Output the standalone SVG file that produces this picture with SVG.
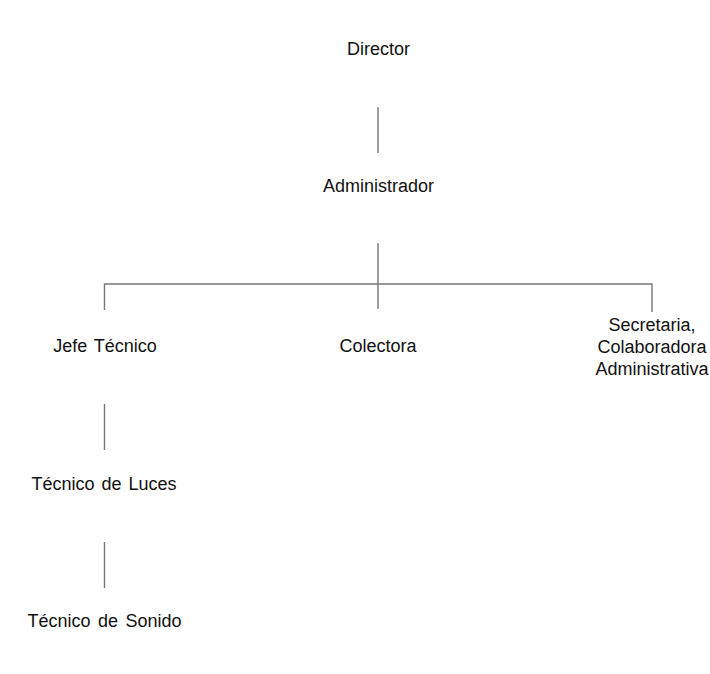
<svg xmlns="http://www.w3.org/2000/svg" width="710" height="674" viewBox="0 0 710 674">
<style>
text{font-family:"Liberation Sans",Arial,sans-serif;font-size:18px;fill:#111;text-anchor:middle}
.c{stroke:#777;stroke-width:1.4;fill:none}
</style>
<rect width="710" height="674" fill="#fff"/>
<g id="connectors">
<line class="c" x1="378" y1="107" x2="378" y2="153"/>
<line class="c" x1="378" y1="243" x2="378" y2="309"/>
<polyline class="c" points="104.5,310 104.5,284 652,284 652,312"/>
<line class="c" x1="104.5" y1="404" x2="104.5" y2="450"/>
<line class="c" x1="104.5" y1="542" x2="104.5" y2="588"/>
</g>
<g id="director"><text x="378.5" y="55">Director</text></g>
<g id="administrador"><text x="378.5" y="192">Administrador</text></g>
<g id="jefe-tecnico"><text x="105" y="352" word-spacing="2">Jefe Técnico</text></g>
<g id="colectora"><text x="378" y="352">Colectora</text></g>
<g id="secretaria"><text x="652" y="331">Secretaria,</text><text x="652" y="353">Colaboradora</text><text x="652" y="375">Administrativa</text></g>
<g id="tecnico-luces"><text x="104" y="490" word-spacing="2">Técnico de Luces</text></g>
<g id="tecnico-sonido"><text x="104.5" y="627" word-spacing="2.5">Técnico de Sonido</text></g>
</svg>
